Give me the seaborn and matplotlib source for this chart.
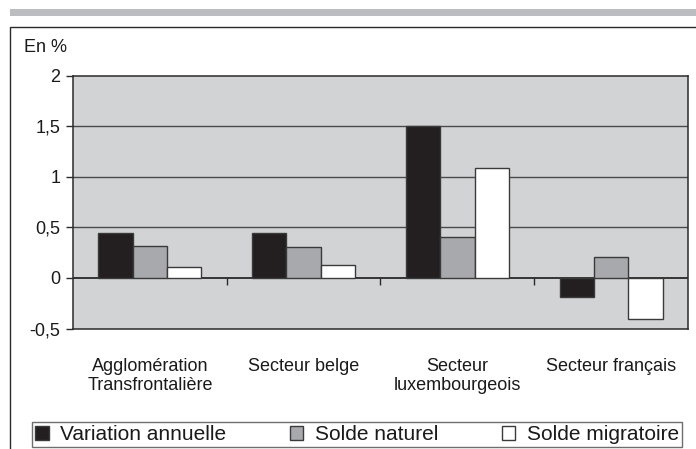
import matplotlib
matplotlib.use("Agg")
import matplotlib.pyplot as plt
from matplotlib.patches import Rectangle, Patch
import seaborn as sns
import pandas as pd

categories = ["Agglomération\nTransfrontalière", "Secteur belge", "Secteur\nluxembourgeois", "Secteur français"]
series = ["Variation annuelle", "Solde naturel", "Solde migratoire"]
variation_annuelle = [0.44, 0.44, 1.50, -0.19]
solde_naturel = [0.32, 0.31, 0.40, 0.21]
solde_migratoire = [0.11, 0.13, 1.09, -0.41]
y_ticks = [-0.5, 0, 0.5, 1, 1.5, 2]
y_tick_labels = ["-0,5", "0", "0,5", "1", "1,5", "2"]
y_unit = "En %"

colors = ["#231f20", "#a7a9ac", "#ffffff"]

rows = []
for s, vals in zip(series, [variation_annuelle, solde_naturel, solde_migratoire]):
    for c, v in zip(categories, vals):
        rows.append({"cat": c, "serie": s, "val": v})
df = pd.DataFrame(rows)

sns.set_theme(style="white")
plt.rcParams["font.family"] = ["Liberation Sans", "DejaVu Sans"]

W, H = 696, 449
fig = plt.figure(figsize=(W / 100, H / 100), dpi=100)
ax = fig.add_axes([73 / W, 1 - 328.5 / H, (688 - 73) / W, (328.5 - 75.7) / H])
ax.set_facecolor("#d2d3d5")

sns.barplot(data=df, x="cat", y="val", hue="serie", order=categories, hue_order=series,
            palette=colors, width=0.67, edgecolor="#3a3a3a", linewidth=1.0,
            saturation=1, legend=False, ax=ax, zorder=3)

ax.set_ylim(-0.5, 2)
ax.set_xlim(-0.5, len(categories) - 0.5)
ax.set_yticks(y_ticks)
ax.set_yticklabels(y_tick_labels)
for y in [0.5, 1, 1.5]:
    ax.axhline(y, color="#4a4a4a", lw=1.0, zorder=1)
ax.axhline(0, color="#1a1a1a", lw=1.2, zorder=2)

for side in ["left", "right", "top", "bottom"]:
    ax.spines[side].set_visible(True)
    ax.spines[side].set_color("#2a2a2a")
    ax.spines[side].set_linewidth(1.1)

ax.set_xlabel("")
ax.set_ylabel("")
ax.tick_params(axis="y", which="major", direction="out", length=5, width=1,
               color="#2a2a2a", pad=4, labelsize=13, labelcolor="#1a1a1a", left=True)
ax.tick_params(axis="x", length=0, pad=21, labelsize=13, labelcolor="#1a1a1a")

# boundary ticks on the zero line
sec = ax.secondary_xaxis(0.2)
sec.set_xticks([0.5, 1.5, 2.5])
sec.tick_params(axis="x", direction="out", length=5, width=1, color="#2a2a2a",
                labelbottom=False, bottom=True)
for sp in sec.spines.values():
    sp.set_visible(False)

# unit label
fig.text(24 / W, 1 - 52 / H, y_unit, fontsize=13, color="#1a1a1a", ha="left", va="baseline")

# top band and outer frame
fig.add_artist(Rectangle((10 / W, 1 - 16 / H), 1.0, 7 / H, transform=fig.transFigure,
                         facecolor="#bcbdc0", edgecolor="none"))
fig.add_artist(Rectangle((10 / W, -0.1), 1.0, 1 - 27 / H + 0.1, transform=fig.transFigure,
                         fill=False, edgecolor="#2a2a2a", lw=1.0))

handles = [Patch(facecolor=c, edgecolor="#3a3a3a", lw=1.0) for c in colors]
leg = fig.legend(handles, series, loc="lower left",
                 bbox_to_anchor=(32 / W, 2 / H, 650 / W, 28 / H), bbox_transform=fig.transFigure,
                 ncol=3, mode="expand", fontsize=15, frameon=True, fancybox=False,
                 edgecolor="#4a4a4a", borderpad=0.15, borderaxespad=0,
                 handlelength=0.65, handleheight=0.65, handletextpad=0.55)
leg.get_frame().set_linewidth(1.0)
for t in leg.get_texts():
    t.set_color("#1a1a1a")

fig.savefig("out.png", dpi=100)
